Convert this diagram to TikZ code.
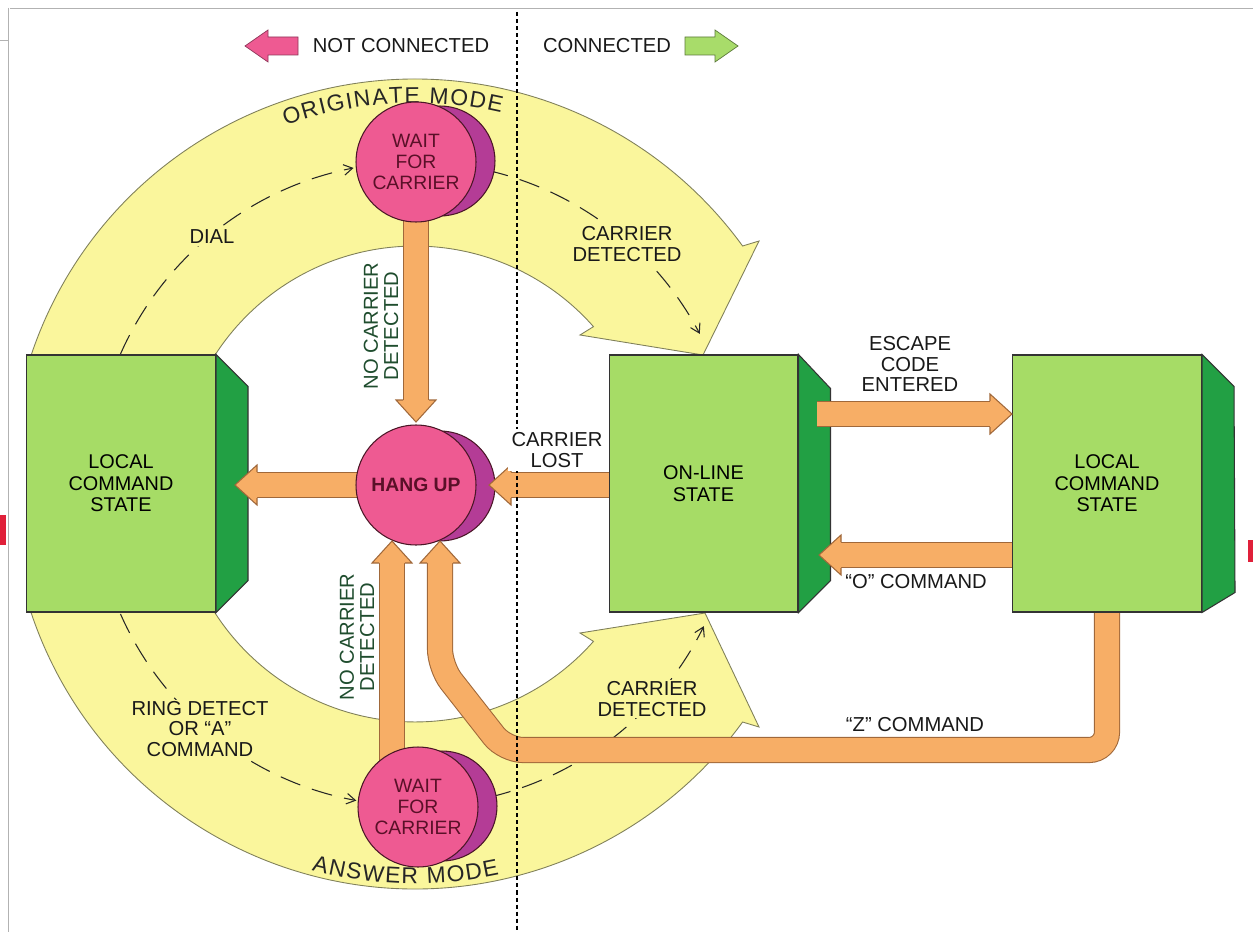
\documentclass[tikz,border=0pt]{standalone}
\usepackage{fontspec}
\setmainfont{Liberation Sans}
\usetikzlibrary{calc,arrows.meta}
\pgfdeclarelayer{ringlayer}
\pgfdeclarelayer{shaftlayer}
\pgfdeclarelayer{frontlayer}
\pgfsetlayers{ringlayer,shaftlayer,main,frontlayer}
\definecolor{ringc}{HTML}{FAF69C}
\definecolor{ringedge}{HTML}{80805A}
\definecolor{gfront}{HTML}{A6DC66}
\definecolor{gpanel}{HTML}{22A044}
\definecolor{pinkc}{HTML}{EE5A92}
\definecolor{pinkback}{HTML}{B43C96}
\definecolor{cirline}{HTML}{4A1626}
\definecolor{cirtext}{HTML}{5A1028}
\definecolor{ofill}{HTML}{F7AE66}
\definecolor{oedge}{HTML}{A0683A}
\definecolor{ncgreen}{HTML}{1F4D2E}
\definecolor{legreen}{HTML}{A8DC6A}
\definecolor{edgered}{HTML}{E0203A}
\newcommand{\lblfont}{\fontsize{11.5}{11.6}\selectfont}
\newcommand{\boxfont}{\fontsize{11.3}{12.3}\selectfont}
\newcommand{\cirfont}{\fontsize{11}{12}\selectfont}
\newcommand{\ringfont}{\fontsize{13}{13}\selectfont}
\tikzset{
  ring/.style={fill=ringc, draw=ringedge, line width=0.5pt},
  ringlet/.style={font=\ringfont, text=black!85, inner sep=0pt, anchor=base},
  front/.style={rectangle, fill=gfront, draw=black!80, line width=0.6pt, minimum width=3.78cm, minimum height=5.14cm, inner sep=0pt, align=center, font=\boxfont},
  panel/.style={fill=gpanel, draw=black!80, line width=0.6pt},
  frontc/.style={circle, fill=pinkc, draw=cirline, line width=0.6pt, minimum size=2.4cm, inner sep=0pt, align=center, font=\cirfont, text=cirtext},
  backc/.style={circle, fill=pinkback, draw=cirline, line width=0.6pt, minimum size=2.2cm, inner sep=0pt},
  shaft/.style={draw=oedge, line width=0.6pt, double=ofill, double distance=0.48cm},
  lbl/.style={align=center, font=\lblfont, text=black!90, inner sep=1.5pt},
  dasharr/.style={draw=black!85, line width=0.6pt, dash pattern=on 12pt off 7pt, -{Straight Barb[length=5pt,width=6pt]}},
  divider/.style={draw=black, line width=0.9pt, dash pattern=on 2.3pt off 1.7pt},
  ohead/.pic={\filldraw[fill=ofill, draw=oedge, line width=0.6pt] (0,13) -- (0,20) -- (22,0) -- (0,-20) -- (0,-13);}
}
\begin{document}
\begin{tikzpicture}[x=0.02cm,y=0.02cm]
\useasboundingbox (0,0) rectangle (1253,-932);
\coordinate (C) at (415,-484);
\coordinate (lcsc) at (121,-483.5);
\coordinate (olc) at (703.5,-483.5);
\coordinate (rcsc) at (1107,-483.5);
\coordinate (w1c) at (416,-162);
\coordinate (hangc) at (416,-485);
\coordinate (w2c) at (418,-807);

\begin{pgfonlayer}{ringlayer}
\fill[white] (0,0) rectangle (1253,-932);
% frame lines and edge marks
\draw[gray!60, line width=0.5pt] (10,-8) -- (1253,-8);
\draw[gray!60, line width=0.5pt] (8,-8) -- (8,-932);
\draw[gray!60, line width=0.5pt] (0,-40) -- (8,-40);
\fill[edgered] (0,-515) rectangle (6,-545);
\fill[edgered] (1248,-540) rectangle (1253,-562);
% yellow ring arrows
\filldraw[ring] ($(C)+(161.44:8.1cm)$) arc[start angle=161.44,end angle=36,radius=8.1cm]
  -- (759,-241) -- (703,-355) -- (580,-335) -- ($(C)+(41.4:4.76cm)$)
  arc[start angle=41.4,end angle=147.18,radius=4.76cm] -- cycle;
\filldraw[ring] ($(C)+(198.42:8.1cm)$) arc[start angle=198.42,end angle=324,radius=8.1cm]
  -- (759,-727) -- (705,-613) -- (580,-633) -- ($(C)+(318.6:4.76cm)$)
  arc[start angle=318.6,end angle=212.54,radius=4.76cm] -- cycle;
% lettering along the ring
\foreach \ch/\a [count=\i] in {O/108.53,R/105.75,I/103.81,G/101.79,I/99.76,N/97.84,A/95.22,T/92.81,E/90.41,M/86.45,O/83.46,D/80.66,E/78.06}
  \node[ringlet, rotate=\a-90] (orig\i) at ($(C)+(\a:7.62cm)$) {\ch};
\foreach \ch/\a [count=\i] in {A/256.12,N/258.6,S/261.08,W/263.92,E/266.77,R/269.24,M/273.1,O/275.95,D/278.6,E/281.08}
  \node[ringlet, rotate=\a+90] (answ\i) at ($(C)+(\a:8.0cm)$) {\ch};
% dashed transitions
\coordinate (d1s) at ($(C)+(156.2:6.44cm)$);
\coordinate (d2s) at ($(C)+(77:6.44cm)$);
\coordinate (d3s) at ($(C)+(203.8:6.44cm)$);
\coordinate (d4s) at ($(C)+(283.5:6.44cm)$);
\draw[dasharr] (d1s) arc[start angle=156.2,end angle=101,radius=6.44cm];
\draw[dasharr] (d2s) arc[start angle=77,end angle=27.8,radius=6.44cm];
\draw[dasharr] (d3s) arc[start angle=203.8,end angle=259.5,radius=6.44cm];
\draw[dasharr] (d4s) arc[start angle=283.5,end angle=333.8,radius=6.44cm];
\node[lbl, fill=ringc, inner sep=1pt] (ldial) at (212,-237) {DIAL};
\node[lbl, fill=ringc, inner sep=1pt] (lcd1) at (627,-244) {CARRIER\\DETECTED};
\node[lbl, fill=ringc, inner sep=1pt] (lring) at (200,-729) {RING DETECT\\OR “A”\\COMMAND};
\node[lbl, fill=ringc, inner sep=1pt] (lcd2) at (652,-699) {CARRIER\\DETECTED};
\end{pgfonlayer}

\begin{pgfonlayer}{shaftlayer}
\draw[shaft] (w1c) -- (416,-400);
\draw[shaft] (hangc) -- ($(lcsc |- hangc)+(136,0)$);
\draw[shaft] (olc |- hangc) -- ($(hangc)+(95,0)$);
\draw[shaft] (rcsc |- 0,-555) -- (841,-555);
\draw[shaft] (w2c -| 392,0) -- (392,-563);
\draw[shaft, rounded corners=0.36cm] (rcsc) -- (1107,-750) -- (505,-750) -- (440,-667) -- (440,-563);
\end{pgfonlayer}

% state boxes
\node[front] (lcs) at (lcsc) {LOCAL\\COMMAND\\STATE};
\filldraw[panel] (lcs.north east) -- ++(32,-32) -- ($(lcs.south east)+(32,32)$) -- (lcs.south east) -- cycle;
\node[front] (ol) at (olc) {ON-LINE\\STATE};
\filldraw[panel] (ol.north east) -- ++(32,-34) -- ($(ol.south east)+(32,32)$) -- (ol.south east) -- cycle;
\node[front] (rcs) at (rcsc) {LOCAL\\COMMAND\\STATE};
\filldraw[panel] (rcs.north east) -- ++(32,-32) -- ($(rcs.south east)+(33,20)$) -- (rcs.south east) -- cycle;

% pink discs
\node[backc] (w1b) at ($(w1c)+(24,1)$) {};
\node[frontc] (w1) at (w1c) {WAIT\\FOR\\CARRIER};
\node[backc] (hangb) at ($(hangc)+(24,-1)$) {};
\node[frontc, font=\cirfont\bfseries] (hang) at (hangc) {HANG UP};
\node[backc] (w2b) at ($(w2c)+(24,1)$) {};
\node[frontc] (w2) at (w2c) {WAIT\\FOR\\CARRIER};

\begin{pgfonlayer}{frontlayer}
% arrow heads
\pic[rotate=-90] at (416,-400) {ohead};
\pic[rotate=180] at ($(lcsc |- hangc)+(136,0)$) {ohead};
\pic[rotate=180] at ($(hangc)+(95,0)$) {ohead};
\pic[rotate=180] at (841,-555) {ohead};
\pic[rotate=90] at (392,-563) {ohead};
\pic[rotate=90] at (440,-563) {ohead};
\draw[shaft] (817,-414) -- (990,-414);
\pic at (990,-414) {ohead};
% divider
\draw[divider] (517,-12) -- (517,-932);
% legend
\filldraw[fill=pinkc, draw=pinkc!60!black, line width=0.4pt] (298,-37) -- (268,-37) -- (268,-30) -- (245,-46) -- (268,-62) -- (268,-55) -- (298,-55) -- cycle;
\filldraw[fill=legreen, draw=legreen!55!black, line width=0.4pt] (685,-37) -- (715,-37) -- (715,-30) -- (738,-46) -- (715,-62) -- (715,-55) -- (685,-55) -- cycle;
\node[lbl] (leg1) at (401,-46) {NOT CONNECTED};
\node[lbl] (leg2) at (607,-46) {CONNECTED};
% labels
\node[lbl, fill=white, inner sep=2pt] (llost) at (557,-450) {CARRIER\\LOST};
\node[lbl] (lesc) at (910,-364) {ESCAPE\\CODE\\ENTERED};
\node[lbl] (lo) at (916,-582) {“O” COMMAND};
\node[lbl] (lz) at (915,-725) {“Z” COMMAND};
\node[lbl, rotate=90, text=ncgreen] (nc1) at (381,-326) {NO CARRIER\\DETECTED};
\node[lbl, rotate=90, text=ncgreen] (nc2) at (357,-637) {NO CARRIER\\DETECTED};
\end{pgfonlayer}
\end{tikzpicture}
\end{document}
